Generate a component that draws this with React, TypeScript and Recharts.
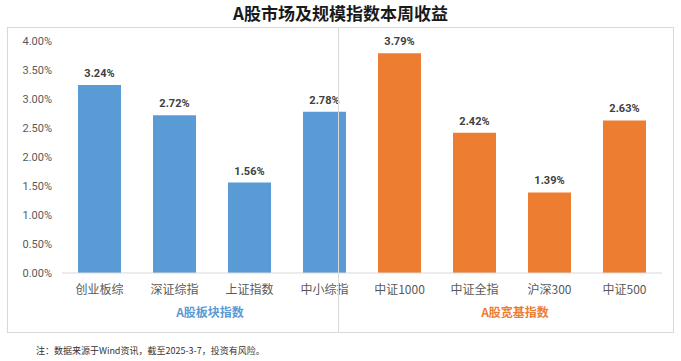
import { BarChart, Bar, XAxis, YAxis, Cell, LabelList } from 'recharts'

// ---------------------------------------------------------------------------
// Data
// ---------------------------------------------------------------------------

const categories = ['创业板综', '深证综指', '上证指数', '中小综指', '中证1000', '中证全指', '沪深300', '中证500']
const weeklyReturns = [3.24, 2.72, 1.56, 2.78, 3.79, 2.42, 1.39, 2.63]
const groups = ['sector', 'sector', 'sector', 'sector', 'broad', 'broad', 'broad', 'broad']
const yTicks = [0, 0.5, 1, 1.5, 2, 2.5, 3, 3.5, 4]

const groupColors: Record<string, string> = { sector: '#5B9BD5', broad: '#ED7D31' }

const data = categories.map((name, i) => ({ name, value: weeklyReturns[i], group: groups[i] }))

const pct = (v: any) => `${Number(v).toFixed(2)}%`

const cjk = '"Noto Sans CJK SC", "Noto Sans", sans-serif'

export default function App() {
  return (
    <div style={{ position: 'absolute', left: 0, top: 0, width: 681, height: 361, background: '#fff' }}>
      {/* frame */}
      <div style={{ position: 'absolute', left: 7, top: 27, width: 667, height: 306, border: '1px solid #d9d9d9', boxSizing: 'border-box' }} />

      <div style={{
        position: 'absolute', left: 0, top: 2, width: 681, textAlign: 'center',
        fontFamily: cjk, fontWeight: 700, fontSize: 17, color: '#1a1a1a', lineHeight: '22px',
      }}>
        A股市场及规模指数本周收益
      </div>

      <div style={{ position: 'absolute', left: 0, top: 0 }}>
        <BarChart width={681} height={361} data={data} margin={{ top: 41, right: 19, bottom: 58, left: 12 }}>
          <XAxis
            dataKey="name"
            tick={{ fontSize: 12, fill: '#595959', fontFamily: cjk }}
            axisLine={{ stroke: '#d9d9d9' }}
            tickLine={false}
            tickMargin={6}
            interval={0}
          />
          <YAxis
            domain={[0, 4]}
            ticks={yTicks}
            tickFormatter={pct}
            tick={{ fontSize: 11, fill: '#595959', fontFamily: 'Roboto, sans-serif' }}
            axisLine={false}
            tickLine={false}
            width={50}
            tickMargin={4}
          />
          <Bar dataKey="value" barSize={43} isAnimationActive={false}>
            {data.map((d, i) => (
              <Cell key={i} fill={groupColors[d.group]} />
            ))}
            <LabelList
              dataKey="value"
              position="top"
              offset={8}
              formatter={pct}
              style={{ fontSize: 11, fontWeight: 700, fill: '#404040', fontFamily: 'Roboto, sans-serif' }}
            />
          </Bar>
        </BarChart>
      </div>

      {/* divider between the two index groups */}
      <div style={{ position: 'absolute', left: 338, top: 27, width: 1, height: 306, background: '#d9d9d9' }} />

      <div style={{ position: 'absolute', left: 150, top: 303, width: 120, textAlign: 'center', fontFamily: cjk, fontWeight: 700, fontSize: 12, color: '#5B9BD5' }}>
        A股板块指数
      </div>
      <div style={{ position: 'absolute', left: 455, top: 303, width: 120, textAlign: 'center', fontFamily: cjk, fontWeight: 700, fontSize: 12, color: '#ED7D31' }}>
        A股宽基指数
      </div>

      <div style={{ position: 'absolute', left: 36, top: 344, fontFamily: cjk, fontSize: 9, color: '#333' }}>
        注：数据来源于Wind资讯，截至2025-3-7，投资有风险。
      </div>
    </div>
  )
}
